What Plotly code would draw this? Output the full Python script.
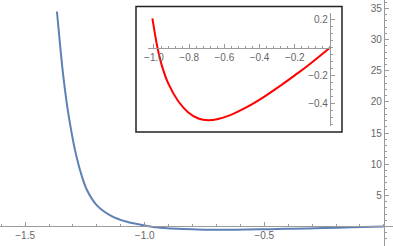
import plotly.graph_objects as go

# Main curve
x_main = [-1.367, -1.354, -1.340, -1.326, -1.315, -1.305, -1.291, -1.270, -1.242, -1.200,
          -1.144, -1.074, -1.005, -0.956, -0.919, -0.862, -0.805, -0.748, -0.691, -0.635,
          -0.578, -0.473, -0.379, -0.284, -0.189, -0.132, 0.0]
y_main = [34.5, 29.2, 24.0, 19.8, 17.1, 14.9, 12.2, 9.0, 5.9, 3.4,
          1.8, 0.75, 0.2, -0.12, -0.25, -0.38, -0.46, -0.505, -0.516, -0.509,
          -0.487, -0.424, -0.354, -0.273, -0.187, -0.134, 0.0]

# Inset curve
x_inset = [-1.009, -0.980, -0.956, -0.919, -0.862, -0.805, -0.748, -0.691, -0.635,
           -0.578, -0.473, -0.379, -0.284, -0.189, -0.132, 0.0]
y_inset = [0.21, 0.0, -0.124, -0.255, -0.382, -0.462, -0.505, -0.518, -0.509,
           -0.487, -0.424, -0.354, -0.273, -0.187, -0.134, 0.0]

main_xticks = [-1.5, -1.0, -0.5]
main_yticks = [5, 10, 15, 20, 25, 30, 35]
inset_xticks = [-1.0, -0.8, -0.6, -0.4, -0.2]
inset_yticks = [0.2, -0.2, -0.4]

W, H = 393, 246
axis_col = "#9a9a9a"
lab_font = dict(family="Liberation Sans, Arial, sans-serif", size=10, color="#666666")

fig = go.Figure()
fig.add_trace(go.Scatter(x=x_main, y=y_main, mode="lines",
                         line=dict(color="#5E81B5", width=2, shape="spline", smoothing=1.0),
                         xaxis="x", yaxis="y", hoverinfo="skip"))
fig.add_trace(go.Scatter(x=x_inset, y=y_inset, mode="lines",
                         line=dict(color="#FF0000", width=2, shape="spline", smoothing=1.0),
                         xaxis="x2", yaxis="y2", hoverinfo="skip"))

# main axis ranges
xr = [-1.605, 0.038]
yr = [-3.13, 36.35]
xpos0 = (0 - xr[0]) / (xr[1] - xr[0])
ypos0 = (0 - yr[0]) / (yr[1] - yr[0])

# inset geometry (pixels)
ix0, ix1 = 148, 331
iy_top, iy_bot = 13, 126
ixr = [-1.034, 0.006]
iyr = [-0.559, 0.248]
ixdom = [ix0 / W, ix1 / W]
iydom = [1 - iy_bot / H, 1 - iy_top / H]
ix_zero_paper = ixdom[0] + (0 - ixr[0]) / (ixr[1] - ixr[0]) * (ixdom[1] - ixdom[0])
iy_zero_paper = iydom[0] + (0 - iyr[0]) / (iyr[1] - iyr[0]) * (iydom[1] - iydom[0])

common = dict(showgrid=False, zeroline=False, showline=True, linecolor=axis_col, linewidth=1,
              ticks="inside", tickcolor=axis_col, ticklen=4, tickwidth=1, tickfont=lab_font,
              tickformat=".1f", automargin=False)

fig.update_layout(
    width=W, height=H, margin=dict(l=0, r=0, t=0, b=0, pad=0),
    paper_bgcolor="white", plot_bgcolor="white", showlegend=False,
    xaxis=dict(domain=[0, 1], range=xr, anchor="free", position=ypos0, side="bottom",
               tickmode="array", tickvals=main_xticks,
               minor=dict(dtick=0.1, tick0=0, ticks="inside", ticklen=2, tickcolor=axis_col),
               **common),
    yaxis=dict(domain=[0, 1], range=yr, anchor="free", position=xpos0, side="left",
               tickmode="array", tickvals=main_yticks,
               minor=dict(dtick=1, tick0=0, ticks="inside", ticklen=2, tickcolor=axis_col),
               **{**common, "tickformat": "d"}),
    xaxis2=dict(domain=ixdom, range=ixr, anchor="free", position=iy_zero_paper, side="bottom",
                tickmode="array", tickvals=inset_xticks,
                minor=dict(dtick=0.04, tick0=0, ticks="inside", ticklen=2, tickcolor=axis_col),
                **common),
    yaxis2=dict(domain=iydom, range=iyr, anchor="free", position=ix_zero_paper, side="left",
                tickmode="array", tickvals=inset_yticks,
                minor=dict(dtick=0.05, tick0=0, ticks="inside", ticklen=2, tickcolor=axis_col),
                **common),
    shapes=[dict(type="rect", xref="paper", yref="paper",
                 x0=136 / W, x1=342 / W, y0=1 - 132 / H, y1=1 - 6.5 / H,
                 line=dict(color="#222222", width=1.5), fillcolor="rgba(0,0,0,0)", layer="above")],
)

fig.write_html("out.html",
               config={"displayModeBar": False, "staticPlot": True},
               post_script="document.body.style.margin='0';document.body.style.overflow='hidden';")
